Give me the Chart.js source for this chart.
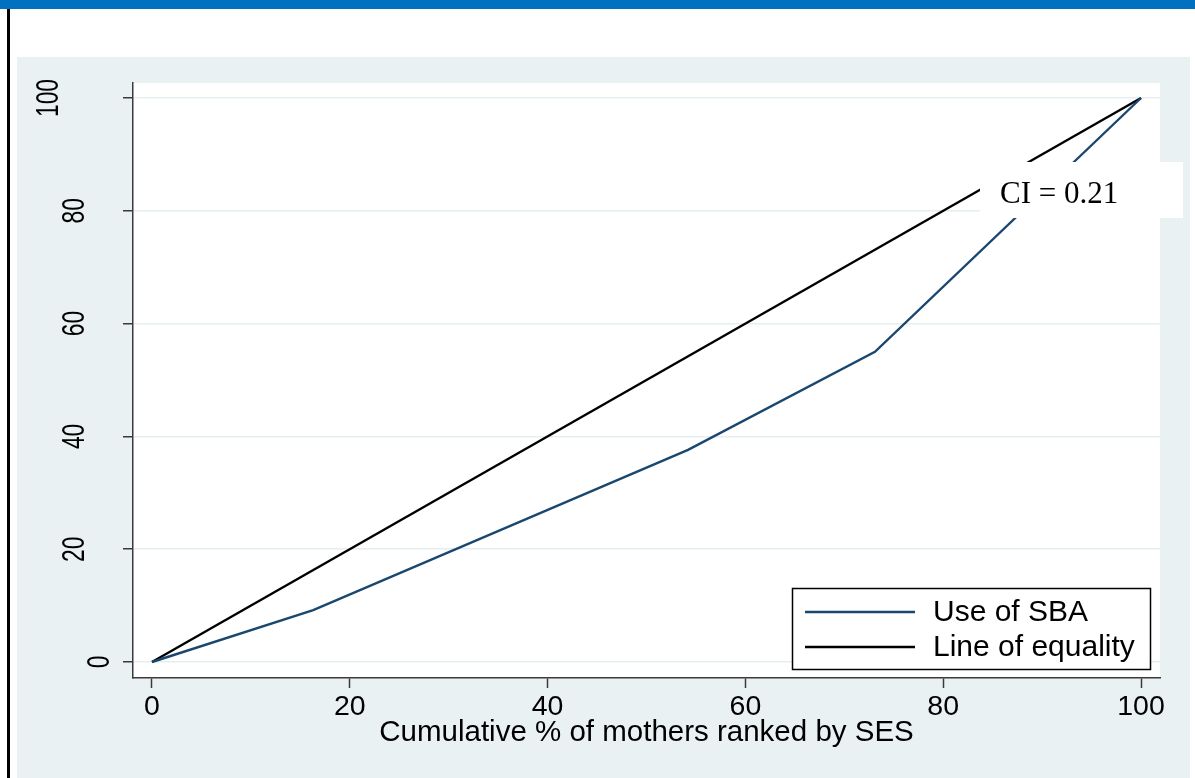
<!DOCTYPE html>
<html>
<head>
<meta charset="utf-8">
<script src="https://cdn.jsdelivr.net/npm/chart.js@4.4.1/dist/chart.umd.min.js"></script>
<style>
  html, body { margin: 0; padding: 0; background: #fff; }
  canvas { display: block; }
</style>
</head>
<body>
<canvas id="c" width="1195" height="778"></canvas>
<script>
// Concentration curve for skilled birth attendance (SBA) by socioeconomic rank
const sbaShareX = [0, 16.3, 54.2, 73.1, 100];
const sbaShareY = [0, 9.2, 37.6, 55.0, 100];
const equalityX = [0, 100];
const equalityY = [0, 100];
const xTickValues = [0, 20, 40, 60, 80, 100];
const yTickValues = [0, 20, 40, 60, 80, 100];
const seriesNames = ['Use of SBA', 'Line of equality'];
const seriesColors = ['#1a476f', '#000000'];
const xAxisTitle = 'Cumulative % of mothers ranked by SES';
const indexLabel = 'CI = 0.21';

const toPoints = (xs, ys) => xs.map((x, i) => ({ x, y: ys[i] }));

const PANEL = '#e9f1f3';
const GRID = '#e5eef1';
const AXIS = '#3a3a3a';
const SANS = '"Liberation Sans", Arial, sans-serif';
const SERIF = '"Liberation Serif", "Times New Roman", serif';

// Page frame: header bar, left rule, tinted graph region, white plot region
const frame = {
  id: 'frame',
  beforeDraw(chart) {
    const { ctx, width, height, chartArea: a } = chart;
    ctx.save();
    ctx.fillStyle = '#ffffff';
    ctx.fillRect(0, 0, width, height);
    ctx.fillStyle = '#0070c0';
    ctx.fillRect(0, 0, width, 9);
    ctx.fillStyle = '#000000';
    ctx.fillRect(7, 9, 3, height - 9);
    ctx.fillStyle = PANEL;
    ctx.fillRect(17, 57, 1173, height - 57);
    ctx.fillStyle = '#ffffff';
    ctx.fillRect(a.left, a.top, a.right - a.left, a.bottom - a.top);
    ctx.restore();
  }
};

// Vertical (rotated, narrow) y tick labels
const yLabels = {
  id: 'yLabels',
  afterDraw(chart) {
    const { ctx, chartArea: a } = chart;
    const scale = chart.scales.y;
    const squeeze = 0.75;
    ctx.save();
    ctx.font = '30.5px ' + SANS;
    ctx.fillStyle = '#000000';
    ctx.textAlign = 'center';
    ctx.textBaseline = 'alphabetic';
    scale.ticks.forEach(t => {
      const label = String(t.label);
      const len = ctx.measureText(label).width * squeeze;
      const y = scale.getPixelForValue(t.value);
      const x = a.left + 1.5 - 2 * len;
      ctx.save();
      ctx.translate(x, y);
      ctx.rotate(-Math.PI / 2);
      ctx.scale(squeeze, 1);
      ctx.fillText(label, 0, 0);
      ctx.restore();
    });
    ctx.restore();
  }
};

// Boxed legend in the lower right of the plot region
const boxLegend = {
  id: 'boxLegend',
  afterDatasetsDraw(chart) {
    const { ctx, chartArea: a } = chart;
    const left = a.right - 368, top = a.bottom - 90, w = 358, h = 81;
    ctx.save();
    ctx.fillStyle = '#ffffff';
    ctx.fillRect(left, top, w, h);
    ctx.strokeStyle = '#000000';
    ctx.lineWidth = 1.5;
    ctx.strokeRect(left + 0.5, top + 0.5, w, h);
    ctx.font = '30px ' + SANS;
    ctx.textBaseline = 'middle';
    ctx.textAlign = 'left';
    chart.data.datasets.forEach((ds, i) => {
      const rowY = top + 24 + i * 35;
      ctx.strokeStyle = ds.borderColor;
      ctx.lineWidth = 2.4;
      ctx.beginPath();
      ctx.moveTo(left + 13, rowY);
      ctx.lineTo(left + 123, rowY);
      ctx.stroke();
      ctx.fillStyle = '#000000';
      ctx.fillText(ds.label, left + 141, rowY + 1);
    });
    ctx.restore();
  }
};

// Concentration index note in a white box near the top right
const ciNote = {
  id: 'ciNote',
  afterDatasetsDraw(chart) {
    const { ctx, chartArea: a } = chart;
    const left = a.right - 180, top = a.top + 79;
    ctx.save();
    ctx.fillStyle = '#ffffff';
    ctx.fillRect(left, top, 203, 56);
    ctx.fillStyle = '#000000';
    ctx.font = '31px ' + SERIF;
    ctx.textAlign = 'left';
    ctx.textBaseline = 'alphabetic';
    ctx.fillText(indexLabel, left + 20, top + 41);
    ctx.restore();
  }
};

new Chart(document.getElementById('c'), {
  type: 'line',
  data: {
    datasets: [
      {
        label: seriesNames[0],
        data: toPoints(sbaShareX, sbaShareY),
        borderColor: seriesColors[0],
        borderWidth: 2.4,
        pointRadius: 0,
        tension: 0,
        fill: false
      },
      {
        label: seriesNames[1],
        data: toPoints(equalityX, equalityY),
        borderColor: seriesColors[1],
        borderWidth: 2.4,
        pointRadius: 0,
        tension: 0,
        fill: false
      }
    ]
  },
  options: {
    responsive: false,
    animation: false,
    devicePixelRatio: 1,
    layout: { padding: { left: 17, top: 83, right: 35, bottom: 0 } },
    plugins: {
      legend: { display: false },
      tooltip: { enabled: false },
      title: { display: false }
    },
    scales: {
      x: {
        type: 'linear',
        position: 'bottom',
        min: -1.92,
        max: 101.92,
        afterBuildTicks: s => { s.ticks = xTickValues.map(v => ({ value: v })); },
        afterFit: s => { s.height = 100; s.paddingLeft = 0; s.paddingRight = 0; },
        grid: { drawOnChartArea: false, drawTicks: true, tickLength: 10, tickColor: AXIS, tickWidth: 1.5 },
        border: { display: true, color: AXIS, width: 1.5 },
        ticks: { color: '#000000', font: { family: SANS, size: 28.5 }, padding: 2, maxRotation: 0, autoSkip: false },
        title: {
          display: true,
          text: xAxisTitle,
          color: '#000000',
          font: { family: SANS, size: 29.5 },
          padding: { top: 0, bottom: 27 }
        }
      },
      y: {
        type: 'linear',
        position: 'left',
        min: -2.84,
        max: 102.66,
        afterBuildTicks: s => { s.ticks = yTickValues.map(v => ({ value: v })); },
        afterFit: s => { s.width = 116; s.paddingTop = 0; s.paddingBottom = 0; },
        grid: { color: GRID, lineWidth: 1.5, drawTicks: true, tickLength: 10, tickColor: AXIS, tickWidth: 1.5 },
        border: { display: true, color: AXIS, width: 1.5 },
        ticks: { color: 'rgba(0,0,0,0)', font: { family: SANS, size: 30 }, autoSkip: false }
      }
    }
  },
  plugins: [frame, yLabels, boxLegend, ciNote]
});
</script>
</body>
</html>
